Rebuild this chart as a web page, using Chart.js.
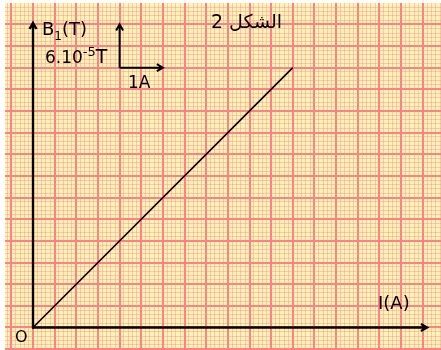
<!DOCTYPE html>
<html>
<head>
<meta charset="utf-8">
<script src="https://cdn.jsdelivr.net/npm/chart.js@4.4.1/dist/chart.umd.min.js"></script>
<style>
    html, body { margin: 0; padding: 0; background: #fff; }
    #wrap { width: 441px; height: 350px; position: relative; }
</style>
</head>
<body>
<div id="wrap"><canvas id="chart"></canvas></div>
<script>
// courant I (A) et champ B1 (en 10^-5 T)
const I_A = [0, 6];
const B1 = [0, 36];

// unités de l'échelle : 1 A et 6.10^-5 T
const unitI = 1;
const unitB = 6;

// papier millimétré : pas des petits carreaux (5 par grand carreau)
const stepI = 0.1;
const stepB = 0.6;

const paperBg = '#fff4b6';
const minorColor = 'rgba(255, 130, 140, 0.42)';
const majorColor = '#ff8282';

const FONT = '"DejaVu Sans", Verdana, sans-serif';

// grille : on fabrique les graduations nous-mêmes
const paperTicks = (step) => (scale) => {
    const ticks = [];
    const k0 = Math.ceil(scale.min / step - 1e-6);
    const k1 = Math.floor(scale.max / step + 1e-6);
    for (let k = k0; k <= k1; k++) {
        ticks.push({ value: k * step, major: k % 5 === 0 });
    }
    scale.ticks = ticks;
};

const paperGrid = {
    drawTicks: false,
    color: (c) => (c.tick && c.tick.major ? majorColor : minorColor),
    lineWidth: (c) => (c.tick && c.tick.major ? 2 : 1)
};

function arrow(ctx, x1, y1, x2, y2) {
    const a = Math.atan2(y2 - y1, x2 - x1);
    const len = 7, spread = 0.52;
    ctx.beginPath();
    ctx.moveTo(x1, y1);
    ctx.lineTo(x2, y2);
    ctx.moveTo(x2 - len * Math.cos(a - spread), y2 - len * Math.sin(a - spread));
    ctx.lineTo(x2, y2);
    ctx.lineTo(x2 - len * Math.cos(a + spread), y2 - len * Math.sin(a + spread));
    ctx.stroke();
}

const paperPlugin = {
    id: 'paper',
    beforeDraw(chart) {
        const { ctx, chartArea: a } = chart;
        ctx.save();
        ctx.fillStyle = paperBg;
        ctx.fillRect(a.left, a.top, a.right - a.left, a.bottom - a.top);
        ctx.restore();
    },
    afterDraw(chart) {
        const { ctx } = chart;
        const x = chart.scales.x, y = chart.scales.y;
        const px = (v) => x.getPixelForValue(v);
        const py = (v) => y.getPixelForValue(v);

        ctx.save();
        ctx.strokeStyle = '#000';
        ctx.lineCap = 'butt';
        ctx.lineJoin = 'miter';

        // axes
        ctx.lineWidth = 2.4;
        arrow(ctx, px(0), py(0) + 1, px(0), py(42.2));
        arrow(ctx, px(0) - 1, py(0), px(9.1), py(0));

        // échelle
        ctx.lineWidth = 2;
        const oI = 2, oB = 36;
        arrow(ctx, px(oI), py(oB), px(oI), py(oB + unitB));
        arrow(ctx, px(oI), py(oB), px(oI + unitI), py(oB));

        // textes
        ctx.fillStyle = '#000';
        ctx.textBaseline = 'alphabetic';
        ctx.textAlign = 'left';

        ctx.font = '18px ' + FONT;
        ctx.fillText('B', 42, 35);
        let w = ctx.measureText('B').width;
        ctx.font = '12px ' + FONT;
        ctx.fillText('1', 42 + w, 40);
        w += ctx.measureText('1').width;
        ctx.font = '18px ' + FONT;
        ctx.fillText('(T)', 42 + w, 35);

        ctx.font = '17px ' + FONT;
        ctx.fillText('6.10', 45, 63);
        w = ctx.measureText('6.10').width;
        ctx.font = '13px ' + FONT;
        ctx.fillText('-5', 45 + w, 56);
        w += ctx.measureText('-5').width;
        ctx.font = '19px ' + FONT;
        ctx.fillText('T', 45 + w, 63);

        ctx.font = '17px ' + FONT;
        ctx.fillText('1A', 128, 88);
        ctx.font = '18px ' + FONT;
        ctx.fillText('I(A)', 378, 309);
        ctx.font = '16px ' + FONT;
        ctx.fillText('O', 15, 342);

        ctx.direction = 'rtl';
        ctx.textAlign = 'right';
        ctx.font = '19px ' + FONT;
        ctx.fillText('الشكل 2', 282, 28);
        ctx.restore();
    }
};

document.addEventListener('DOMContentLoaded', () => {
    const ctx = document.getElementById('chart').getContext('2d');

    new Chart(ctx, {
        type: 'scatter',
        data: {
            datasets: [{
                data: I_A.map((v, i) => ({ x: v, y: B1[i] })),
                showLine: true,
                borderColor: '#000',
                borderWidth: 1.6,
                pointRadius: 0,
                fill: false
            }]
        },
        options: {
            responsive: true,
            maintainAspectRatio: false,
            animation: false,
            layout: { padding: { left: 5, top: 3, right: 0, bottom: 0 } },
            scales: {
                x: {
                    type: 'linear',
                    min: -0.6467,
                    max: 9.4226,
                    afterBuildTicks: paperTicks(stepI),
                    ticks: { display: false },
                    border: { display: false },
                    grid: paperGrid
                },
                y: {
                    type: 'linear',
                    min: -3.118,
                    max: 44.96,
                    afterBuildTicks: paperTicks(stepB),
                    ticks: { display: false },
                    border: { display: false },
                    grid: paperGrid
                }
            },
            plugins: {
                legend: { display: false },
                tooltip: { enabled: false }
            }
        },
        plugins: [paperPlugin]
    });
});
</script>
</body>
</html>
